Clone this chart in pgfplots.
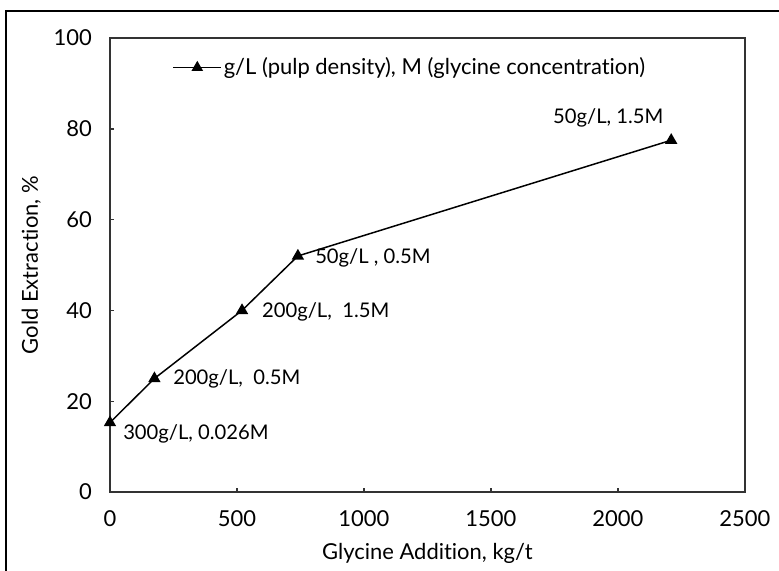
\documentclass[border=0pt]{standalone}
\usepackage{fontspec}
\setmainfont{Lato}[Ligatures=NoCommon]
\usepackage{pgfplots}
\pgfplotsset{compat=1.18}

\begin{document}
\begin{tikzpicture}[x=0.02cm,y=0.02cm]
\fontsize{11.5}{13}\selectfont
% picture is 779 x 571 px, 1px = 0.02cm
\useasboundingbox (0,0) rectangle (779,571);
\draw[line width=0.7pt] (6,-5) -- (6,560) -- (790,560);
\begin{axis}[
  at={(2.2cm,1.58cm)}, anchor=south west,
  scale only axis, width=12.7cm, height=9.08cm,
  xmin=0, xmax=2500, ymin=0, ymax=100,
  xtick={0,500,...,2500}, ytick={0,20,...,100},
  tick align=inside, xtick pos=bottom, ytick pos=left,
  major tick length=0.09cm,
  axis line style={line width=1.1pt, black!80},
  every tick/.style={line width=0.8pt, black!80},
  /pgf/number format/assume math mode=true,
  /pgf/number format/1000 sep={},
  tick label style={font=\fontsize{12.5}{14}\selectfont},
  xticklabel style={yshift=-0.22cm},
  yticklabel style={xshift=-0.22cm},
  xlabel={Glycine Addition, kg/t},
  ylabel={Gold Extraction, \%},
  label style={font=\fontsize{12.5}{14}\selectfont},
  xlabel style={yshift=-0.06cm},
  ylabel style={yshift=-0.02cm},
  legend style={draw=none, fill=none, at={(0.098,0.935)}, anchor=west,
    font=\fontsize{12.5}{14}\selectfont, inner sep=0pt,
    nodes={inner sep=1pt}},
  legend cell align=left,
  legend image code/.code={
    \draw[line width=0.85pt, mark repeat=2, mark phase=2, mark size=3pt]
      plot coordinates {(0cm,0cm) (0.48cm,0cm) (0.96cm,0cm)};},
]
\addplot[black, line width=0.85pt, mark=triangle*, mark size=3.2pt]
  coordinates {(0,15.3) (175,25) (520,40) (740,52) (2210,77.5)};
\addlegendentry{g/L (pulp density), M (glycine concentration)}
\node[anchor=west, inner sep=0pt] at (axis cs:1744,82.4) {50g/L, 1.5M};
\node[anchor=west, inner sep=0pt] at (axis cs:807,51.5) {50g/L , 0.5M};
\node[anchor=west, inner sep=0pt] at (axis cs:598,39.6) {200g/L,~ 1.5M};
\node[anchor=west, inner sep=0pt] at (axis cs:248,24.9) {200g/L,~ 0.5M};
\node[anchor=west, inner sep=0pt] at (axis cs:51,12.8) {300g/L, 0.026M};
\end{axis}
\end{tikzpicture}
\end{document}
